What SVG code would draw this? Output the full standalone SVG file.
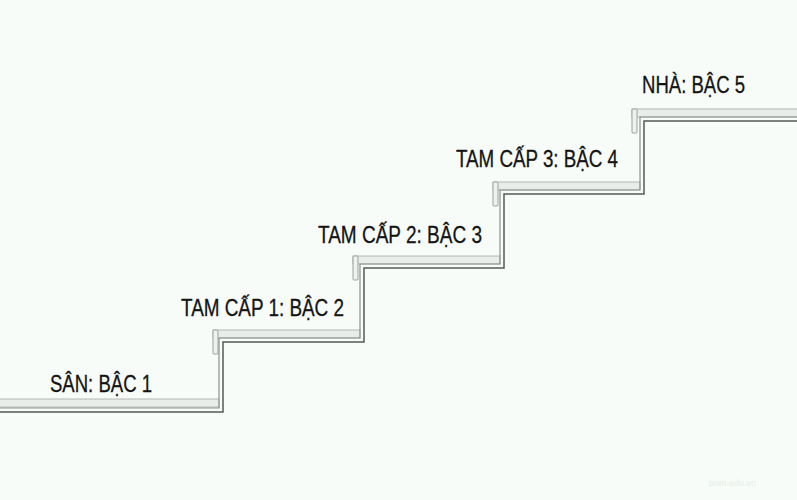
<svg xmlns="http://www.w3.org/2000/svg" width="797" height="500" viewBox="0 0 797 500">
<style>
.lbl{font-family:"Liberation Sans",Arial,sans-serif;font-size:23px;fill:#141414;stroke:#141414;stroke-width:0.3}
.tile{fill:#e9ede9;stroke:#b4b8b4;stroke-width:1}
.nose{fill:#eef2ee;stroke:#9ea29e;stroke-width:1}
.outer{fill:none;stroke:#8e928e;stroke-width:1.2}
.inner{fill:none;stroke:#555855;stroke-width:1.5}
.wm{font-family:"Liberation Sans",Arial,sans-serif;font-size:9px;fill:#e6ece6}
</style>
<rect x="0" y="0" width="797" height="500" fill="#f8fcf8"/>
<g id="tiles">
<rect class="tile" x="-2" y="399" width="221" height="8"/>
<rect class="tile" x="213" y="330" width="147" height="8"/>
<rect class="tile" x="353" y="256" width="147" height="8"/>
<rect class="tile" x="493" y="182" width="147" height="8"/>
<rect class="tile" x="632" y="109" width="167" height="8"/>
</g>
<g id="profile">
<path class="outer" d="M0,408 H219 V338 H360 V264 H500 V190 H640 V117 H797"/>
<path class="inner" d="M0,412 H223 V342 H364 V268 H504 V194 H644 V121 H797"/>
</g>
<g id="step1">
<text class="lbl" x="50" y="392" textLength="102" lengthAdjust="spacingAndGlyphs">SÂN: BẬC 1</text>
</g>
<g id="step2">
<rect class="nose" x="213" y="330" width="5" height="24" rx="1"/>
<text class="lbl" x="181" y="316" textLength="163" lengthAdjust="spacingAndGlyphs">TAM CẤP 1: BẬC 2</text>
</g>
<g id="step3">
<rect class="nose" x="353" y="256" width="5" height="24" rx="1"/>
<text class="lbl" x="318" y="243" textLength="164" lengthAdjust="spacingAndGlyphs">TAM CẤP 2: BẬC 3</text>
</g>
<g id="step4">
<rect class="nose" x="493" y="182" width="5" height="24" rx="1"/>
<text class="lbl" x="456" y="167" textLength="162" lengthAdjust="spacingAndGlyphs">TAM CẤP 3: BẬC 4</text>
</g>
<g id="step5">
<rect class="nose" x="632" y="109" width="5" height="24" rx="1"/>
<text class="lbl" x="642" y="93" textLength="103" lengthAdjust="spacingAndGlyphs">NHÀ: BẬC 5</text>
</g>
<text class="wm" x="709" y="486">bom.edu.vn</text>
</svg>
